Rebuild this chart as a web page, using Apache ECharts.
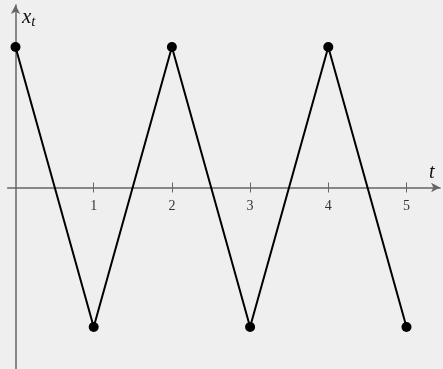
<!DOCTYPE html>
<html>
<head>
<meta charset="utf-8">
<script src="https://cdn.jsdelivr.net/npm/echarts@6/dist/echarts.min.js"></script>
<style>
  html, body { margin: 0; padding: 0; background: #efefef; }
  #chart { width: 443px; height: 369px; }
</style>
</head>
<body>
<div id="chart"></div>
<script>
// zig-zag x_t, values at t = 0..5
const tValues = [0, 1, 2, 3, 4, 5];
const xValues = [1, -1, 1, -1, 1, -1];
const tickValues = [1, 2, 3, 4, 5];

const chart = echarts.init(document.getElementById('chart'));

const axisColor = '#666';
const serif = '"Liberation Serif", "DejaVu Serif", serif';

// grid: top 5, bottom 0 -> y = 0 sits at 187.5px; move the t axis there with offsets
const bottomOffset = -181.5;
const topOffset = -182.5;

const option = {
    backgroundColor: '#efefef',
    animation: false,
    grid: { left: 7.7, right: 2.9, top: 5, bottom: 0, containLabel: false, outerBoundsMode: 'none' },
    xAxis: [{
        type: 'value',
        position: 'bottom',
        offset: bottomOffset,
        min: -0.1,
        max: 5.43,
        axisLine: {
            onZero: false,
            symbol: ['none', 'arrow'],
            symbolSize: [7, 9],
            lineStyle: { color: axisColor, width: 1.5 }
        },
        axisTick: {
            show: true,
            length: 5,
            customValues: tickValues,
            lineStyle: { color: axisColor, width: 1 }
        },
        axisLabel: {
            customValues: tickValues,
            color: '#333',
            fontFamily: serif,
            fontSize: 14,
            margin: 12
        },
        splitLine: { show: false }
    }, {
        type: 'value',
        position: 'top',
        offset: topOffset,
        min: -0.1,
        max: 5.43,
        axisLine: { show: false, onZero: false },
        axisTick: {
            show: true,
            length: 5,
            customValues: tickValues,
            lineStyle: { color: axisColor, width: 1 }
        },
        axisLabel: { show: false },
        splitLine: { show: false }
    }],
    yAxis: {
        type: 'value',
        min: -1.3,
        max: 1.3,
        axisLine: {
            onZero: true,
            symbol: ['none', 'arrow'],
            symbolSize: [7, 9],
            lineStyle: { color: axisColor, width: 1.5 }
        },
        axisTick: { show: false },
        axisLabel: { show: false },
        splitLine: { show: false }
    },
    graphic: [{
        type: 'text',
        left: 429,
        top: 163,
        style: {
            text: 't',
            font: 'italic 20px ' + serif,
            fill: '#111'
        }
    }, {
        type: 'text',
        left: 22,
        top: 7,
        style: {
            text: '{x|x}{s|t}',
            rich: {
                x: { font: 'italic 21px ' + serif, fill: '#111' },
                s: { font: 'italic 15px ' + serif, fill: '#111', padding: [10, 0, 0, 0] }
            }
        }
    }],
    series: [{
        type: 'line',
        data: tValues.map((t, i) => [t, xValues[i]]),
        symbol: 'circle',
        symbolSize: 10,
        showSymbol: true,
        lineStyle: { color: '#000', width: 2 },
        itemStyle: { color: '#000' },
        z: 5
    }]
};

chart.setOption(option);
</script>
</body>
</html>
